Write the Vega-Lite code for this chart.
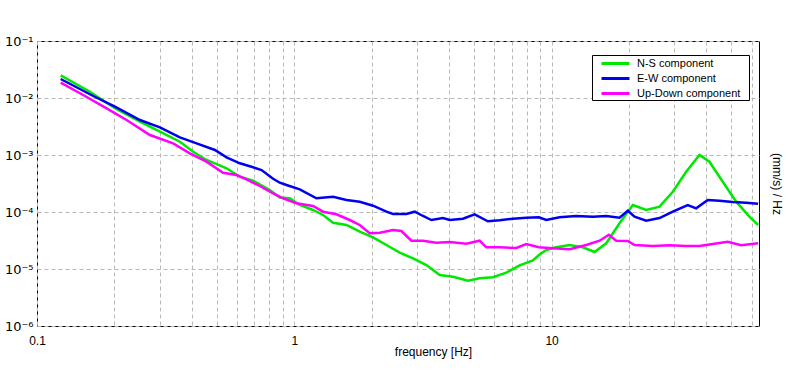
{
  "$schema": "https://vega.github.io/schema/vega-lite/v6.json",
  "width": 722,
  "height": 285,
  "autosize": {"type": "none"},
  "padding": {"left": 37, "top": 41, "right": 37, "bottom": 44},
  "background": "white",
  "config": {
    "font": "Liberation Sans",
    "view": {"stroke": "#000000", "strokeWidth": 1},
    "axis": {"gridColor": "#b8b8b8", "gridDash": [4, 3], "gridWidth": 1, "gridOpacity": 1, "domain": false, "ticks": false, "labelColor": "#000000", "titleColor": "#000000", "labelFont": "Liberation Sans", "titleFont": "Liberation Sans", "titleFontWeight": "normal"}
  },
  "data": {"values": [
    {"f": 0.1236, "v": 0.0250, "c": "N-S component"},
    {"f": 0.1606, "v": 0.0129, "c": "N-S component"},
    {"f": 0.2009, "v": 0.006596, "c": "N-S component"},
    {"f": 0.2512, "v": 0.003838, "c": "N-S component"},
    {"f": 0.3004, "v": 0.002563, "c": "N-S component"},
    {"f": 0.3592, "v": 0.001711, "c": "N-S component"},
    {"f": 0.4046, "v": 0.001143, "c": "N-S component"},
    {"f": 0.4560, "v": 0.0008171, "c": "N-S component"},
    {"f": 0.5454, "v": 0.0005843, "c": "N-S component"},
    {"f": 0.6143, "v": 0.0004163, "c": "N-S component"},
    {"f": 0.6918, "v": 0.0003541, "c": "N-S component"},
    {"f": 0.8033, "v": 0.0002432, "c": "N-S component"},
    {"f": 0.8784, "v": 0.0001796, "c": "N-S component"},
    {"f": 0.9606, "v": 0.0001740, "c": "N-S component"},
    {"f": 1.050, "v": 0.0001327, "c": "N-S component"},
    {"f": 1.183, "v": 0.0001084, "c": "N-S component"},
    {"f": 1.2937, "v": 0.00008858, "c": "N-S component"},
    {"f": 1.415, "v": 0.00006491, "c": "N-S component"},
    {"f": 1.595, "v": 0.00005914, "c": "N-S component"},
    {"f": 1.796, "v": 0.00004511, "c": "N-S component"},
    {"f": 2.023, "v": 0.00003598, "c": "N-S component"},
    {"f": 2.281, "v": 0.00002637, "c": "N-S component"},
    {"f": 2.569, "v": 0.00001932, "c": "N-S component"},
    {"f": 2.893, "v": 0.00001541, "c": "N-S component"},
    {"f": 3.262, "v": 0.00001175, "c": "N-S component"},
    {"f": 3.673, "v": 0.000007846, "c": "N-S component"},
    {"f": 4.139, "v": 0.000007326, "c": "N-S component"},
    {"f": 4.732, "v": 0.000006233, "c": "N-S component"},
    {"f": 5.252, "v": 0.000006867, "c": "N-S component"},
    {"f": 5.916, "v": 0.000007153, "c": "N-S component"},
    {"f": 6.671, "v": 0.000008612, "c": "N-S component"},
    {"f": 7.512, "v": 0.0000116, "c": "N-S component"},
    {"f": 8.461, "v": 0.0000141, "c": "N-S component"},
    {"f": 8.928, "v": 0.00001761, "c": "N-S component"},
    {"f": 9.537, "v": 0.00002154, "c": "N-S component"},
    {"f": 10.43, "v": 0.00002403, "c": "N-S component"},
    {"f": 11.75, "v": 0.00002637, "c": "N-S component"},
    {"f": 13.23, "v": 0.00002403, "c": "N-S component"},
    {"f": 14.69, "v": 0.00001987, "c": "N-S component"},
    {"f": 16.31, "v": 0.00002825, "c": "N-S component"},
    {"f": 18.37, "v": 0.00006335, "c": "N-S component"},
    {"f": 20.69, "v": 0.0001327, "c": "N-S component"},
    {"f": 23.33, "v": 0.0001084, "c": "N-S component"},
    {"f": 26.27, "v": 0.0001239, "c": "N-S component"},
    {"f": 29.59, "v": 0.0002270, "c": "N-S component"},
    {"f": 33.35, "v": 0.0005093, "c": "N-S component"},
    {"f": 37.57, "v": 0.0010, "c": "N-S component"},
    {"f": 41.08, "v": 0.0007627, "c": "N-S component"},
    {"f": 46.27, "v": 0.0003401, "c": "N-S component"},
    {"f": 52.17, "v": 0.0001516, "c": "N-S component"},
    {"f": 58.74, "v": 0.0000827, "c": "N-S component"},
    {"f": 63.48, "v": 0.00005914, "c": "N-S component"},

    {"f": 0.1236, "v": 0.02154, "c": "E-W component"},
    {"f": 0.1654, "v": 0.01084, "c": "E-W component"},
    {"f": 0.2009, "v": 0.00704, "c": "E-W component"},
    {"f": 0.2512, "v": 0.004111, "c": "E-W component"},
    {"f": 0.3004, "v": 0.003062, "c": "E-W component"},
    {"f": 0.3592, "v": 0.002044, "c": "E-W component"},
    {"f": 0.4171, "v": 0.001604, "c": "E-W component"},
    {"f": 0.4913, "v": 0.001224, "c": "E-W component"},
    {"f": 0.5454, "v": 0.0009112, "c": "E-W component"},
    {"f": 0.6143, "v": 0.0007153, "c": "E-W component"},
    {"f": 0.6918, "v": 0.0006083, "c": "E-W component"},
    {"f": 0.7458, "v": 0.0005455, "c": "E-W component"},
    {"f": 0.8274, "v": 0.0003838, "c": "E-W component"},
    {"f": 0.8784, "v": 0.0003266, "c": "E-W component"},
    {"f": 0.9326, "v": 0.0002977, "c": "E-W component"},
    {"f": 1.050, "v": 0.0002501, "c": "E-W component"},
    {"f": 1.2196, "v": 0.0001740, "c": "E-W component"},
    {"f": 1.415, "v": 0.0001855, "c": "E-W component"},
    {"f": 1.595, "v": 0.0001623, "c": "E-W component"},
    {"f": 1.796, "v": 0.0001516, "c": "E-W component"},
    {"f": 2.023, "v": 0.0001290, "c": "E-W component"},
    {"f": 2.281, "v": 0.0001012, "c": "E-W component"},
    {"f": 2.419, "v": 0.00009224, "c": "E-W component"},
    {"f": 2.727, "v": 0.00009224, "c": "E-W component"},
    {"f": 2.938, "v": 0.0001012, "c": "E-W component"},
    {"f": 3.164, "v": 0.00008508, "c": "E-W component"},
    {"f": 3.411, "v": 0.00007236, "c": "E-W component"},
    {"f": 3.784, "v": 0.00007846, "c": "E-W component"},
    {"f": 4.018, "v": 0.00007236, "c": "E-W component"},
    {"f": 4.524, "v": 0.00007627, "c": "E-W component"},
    {"f": 5.023, "v": 0.00009112, "c": "E-W component"},
    {"f": 5.656, "v": 0.00006867, "c": "E-W component"},
    {"f": 6.282, "v": 0.00007153, "c": "E-W component"},
    {"f": 7.075, "v": 0.00007627, "c": "E-W component"},
    {"f": 7.976, "v": 0.00007943, "c": "E-W component"},
    {"f": 8.928, "v": 0.00008072, "c": "E-W component"},
    {"f": 9.537, "v": 0.00007236, "c": "E-W component"},
    {"f": 10.74, "v": 0.00008072, "c": "E-W component"},
    {"f": 12.47, "v": 0.00008508, "c": "E-W component"},
    {"f": 14.47, "v": 0.0000827, "c": "E-W component"},
    {"f": 16.31, "v": 0.00008508, "c": "E-W component"},
    {"f": 18.37, "v": 0.00007943, "c": "E-W component"},
    {"f": 19.79, "v": 0.0001054, "c": "E-W component"},
    {"f": 21.01, "v": 0.0000827, "c": "E-W component"},
    {"f": 23.33, "v": 0.00007037, "c": "E-W component"},
    {"f": 26.27, "v": 0.00007846, "c": "E-W component"},
    {"f": 29.59, "v": 0.0001012, "c": "E-W component"},
    {"f": 33.83, "v": 0.0001327, "c": "E-W component"},
    {"f": 36.47, "v": 0.0001161, "c": "E-W component"},
    {"f": 40.46, "v": 0.0001623, "c": "E-W component"},
    {"f": 44.92, "v": 0.0001578, "c": "E-W component"},
    {"f": 50.59, "v": 0.0001498, "c": "E-W component"},
    {"f": 57.03, "v": 0.0001456, "c": "E-W component"},
    {"f": 63.48, "v": 0.0001400, "c": "E-W component"},

    {"f": 0.1236, "v": 0.01855, "c": "Up-Down component"},
    {"f": 0.1512, "v": 0.01129, "c": "Up-Down component"},
    {"f": 0.1865, "v": 0.006596, "c": "Up-Down component"},
    {"f": 0.2230, "v": 0.004111, "c": "Up-Down component"},
    {"f": 0.2747, "v": 0.002243, "c": "Up-Down component"},
    {"f": 0.3382, "v": 0.001604, "c": "Up-Down component"},
    {"f": 0.3928, "v": 0.001071, "c": "Up-Down component"},
    {"f": 0.4560, "v": 0.0007627, "c": "Up-Down component"},
    {"f": 0.5290, "v": 0.0004892, "c": "Up-Down component"},
    {"f": 0.5963, "v": 0.0004459, "c": "Up-Down component"},
    {"f": 0.6523, "v": 0.0003747, "c": "Up-Down component"},
    {"f": 0.7345, "v": 0.0002859, "c": "Up-Down component"},
    {"f": 0.8274, "v": 0.0002129, "c": "Up-Down component"},
    {"f": 0.9046, "v": 0.0001740, "c": "Up-Down component"},
    {"f": 1.020, "v": 0.0001421, "c": "Up-Down component"},
    {"f": 1.183, "v": 0.0001274, "c": "Up-Down component"},
    {"f": 1.2937, "v": 0.0001012, "c": "Up-Down component"},
    {"f": 1.4585, "v": 0.00009112, "c": "Up-Down component"},
    {"f": 1.642, "v": 0.00007236, "c": "Up-Down component"},
    {"f": 1.796, "v": 0.00005914, "c": "Up-Down component"},
    {"f": 1.964, "v": 0.00004229, "c": "Up-Down component"},
    {"f": 2.148, "v": 0.00004333, "c": "Up-Down component"},
    {"f": 2.419, "v": 0.00004833, "c": "Up-Down component"},
    {"f": 2.608, "v": 0.00004642, "c": "Up-Down component"},
    {"f": 2.852, "v": 0.00003137, "c": "Up-Down component"},
    {"f": 3.164, "v": 0.00003137, "c": "Up-Down component"},
    {"f": 3.567, "v": 0.00002893, "c": "Up-Down component"},
    {"f": 4.018, "v": 0.00002977, "c": "Up-Down component"},
    {"f": 4.664, "v": 0.00002779, "c": "Up-Down component"},
    {"f": 5.252, "v": 0.00003137, "c": "Up-Down component"},
    {"f": 5.577, "v": 0.00002403, "c": "Up-Down component"},
    {"f": 6.282, "v": 0.00002403, "c": "Up-Down component"},
    {"f": 7.295, "v": 0.00002336, "c": "Up-Down component"},
    {"f": 7.976, "v": 0.00002746, "c": "Up-Down component"},
    {"f": 8.928, "v": 0.00002403, "c": "Up-Down component"},
    {"f": 10.12, "v": 0.00002308, "c": "Up-Down component"},
    {"f": 11.75, "v": 0.00002216, "c": "Up-Down component"},
    {"f": 13.64, "v": 0.00002637, "c": "Up-Down component"},
    {"f": 15.37, "v": 0.00003137, "c": "Up-Down component"},
    {"f": 16.69, "v": 0.00003998, "c": "Up-Down component"},
    {"f": 17.84, "v": 0.00003137, "c": "Up-Down component"},
    {"f": 19.79, "v": 0.00003099, "c": "Up-Down component"},
    {"f": 21.01, "v": 0.00002637, "c": "Up-Down component"},
    {"f": 24.74, "v": 0.00002532, "c": "Up-Down component"},
    {"f": 28.73, "v": 0.00002605, "c": "Up-Down component"},
    {"f": 33.35, "v": 0.00002532, "c": "Up-Down component"},
    {"f": 37.57, "v": 0.00002532, "c": "Up-Down component"},
    {"f": 42.31, "v": 0.00002746, "c": "Up-Down component"},
    {"f": 48.38, "v": 0.00003013, "c": "Up-Down component"},
    {"f": 54.54, "v": 0.00002605, "c": "Up-Down component"},
    {"f": 63.48, "v": 0.00002825, "c": "Up-Down component"}
  ]},
  "encoding": {
    "x": {
      "field": "f", "type": "quantitative",
      "scale": {"type": "log", "domain": [0.1, 64], "nice": false, "zero": false},
      "axis": {
        "title": "frequency [Hz]",
        "titleFontSize": 12,
        "titleX": 396,
        "titlePadding": 0,
        "labelFontSize": 12,
        "labelPadding": 9,
        "labelFlush": false,
        "labelOverlap": false,
        "values": [0.1, 0.2, 0.3, 0.4, 0.5, 0.6, 0.7, 0.8, 0.9, 1, 2, 3, 4, 5, 6, 7, 8, 9, 10, 20, 30, 40, 50, 60],
        "labelExpr": "datum.value == 0.1 ? '0.1' : datum.value == 1 ? '1' : datum.value == 10 ? '10' : ''"
      }
    },
    "y": {
      "field": "v", "type": "quantitative",
      "scale": {"type": "log", "domain": [0.000001, 0.1], "nice": false, "zero": false}
    }
  },
  "layer": [
    {
      "mark": {"type": "line", "strokeWidth": 2.5, "interpolate": "linear"},
      "encoding": {
        "y": {
          "field": "v", "type": "quantitative",
          "axis": {
            "title": null,
            "orient": "left",
            "values": [0.000001, 0.00001, 0.0001, 0.001, 0.01, 0.1],
            "labelFontSize": 13,
            "labelFont": "DejaVu Sans",
            "labelPadding": 4,
            "labelExpr": "datum.value > 0.05 ? '10⁻¹' : datum.value > 0.005 ? '10⁻²' : datum.value > 0.0005 ? '10⁻³' : datum.value > 0.00005 ? '10⁻⁴' : datum.value > 0.000005 ? '10⁻⁵' : '10⁻⁶'"
          }
        },
        "color": {
          "field": "c", "type": "nominal",
          "scale": {"domain": ["N-S component", "E-W component", "Up-Down component"], "range": ["#00e800", "#0000f0", "#ff00ff"]},
          "legend": {
            "title": " ",
            "titleOrient": "right",
            "titlePadding": 9,
            "titleFontSize": 2,
            "orient": "none",
            "legendX": 555,
            "legendY": 14,
            "symbolType": "M0.143,0H4.143",
            "symbolStrokeWidth": 3,
            "symbolSize": 196,
            "symbolFillColor": "transparent",
            "labelFontSize": 11,
            "labelFont": "Liberation Sans",
            "labelColor": "#000000",
            "strokeColor": "#000000",
            "fillColor": "#ffffff",
            "padding": 0,
            "rowPadding": 0,
            "labelOffset": 28
          }
        }
      }
    },
    {
      "mark": {"type": "point", "opacity": 0},
      "encoding": {
        "y": {
          "field": "v", "type": "quantitative",
          "axis": {
            "title": "(mm/s) / Hz",
            "orient": "right",
            "labels": false,
            "grid": false,
            "titleFontSize": 12,
            "titlePadding": 10
          }
        }
      }
    }
  ],
  "resolve": {"axis": {"y": "independent"}}
}
